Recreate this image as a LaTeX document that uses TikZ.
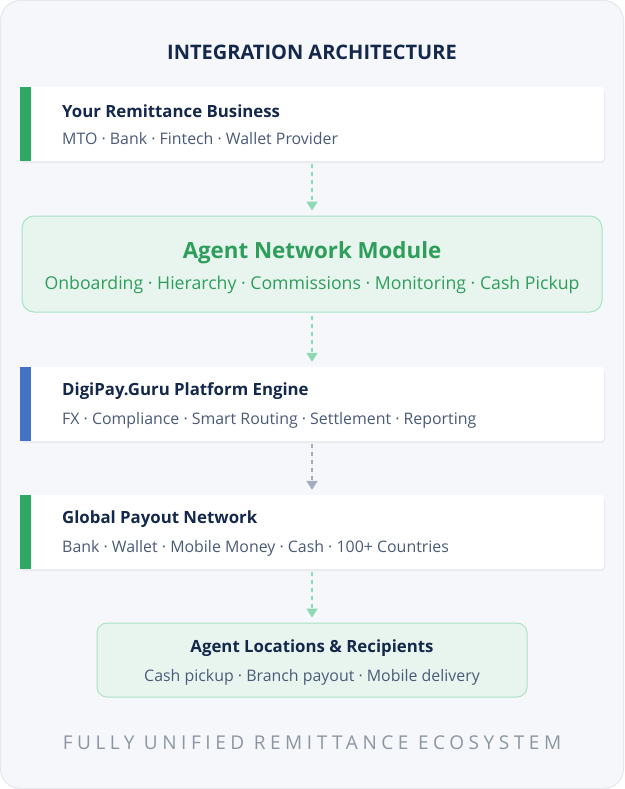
\documentclass[tikz,border=0pt]{standalone}
\usepackage{fontspec}
\setmainfont{Open Sans}
\usetikzlibrary{arrows.meta}
\definecolor{navy}{HTML}{14284B}
\definecolor{subtxt}{HTML}{4A5B78}
\definecolor{bgfill}{HTML}{F5F7FB}
\definecolor{bgline}{HTML}{E2E6ED}
\definecolor{bargreen}{HTML}{2EA862}
\definecolor{barblue}{HTML}{4472C4}
\definecolor{modfill}{HTML}{E8F5EF}
\definecolor{modline}{HTML}{A9E2C6}
\definecolor{modtxt}{HTML}{2E9E5B}
\definecolor{arrgreen}{HTML}{8FD8B4}
\definecolor{arrgray}{HTML}{A3ADBB}
\definecolor{foot}{HTML}{8C96A3}
\tikzset{
  card/.style={rectangle, rounded corners=3pt, fill=white, inner sep=0pt, minimum width=584pt, minimum height=74pt},
  modbox/.style={rectangle, rounded corners=12pt, fill=modfill, draw=modline, line width=1pt, inner sep=0pt},
  ctitle/.style={anchor=west, inner sep=0pt, text=navy, font=\fontsize{16.8}{20}\selectfont\bfseries},
  csub/.style={anchor=west, inner sep=0pt, text=subtxt, font=\fontsize{15.9}{18}\selectfont},
  flow/.style={line width=2pt, dash pattern=on 4pt off 4pt, shorten <=3pt, shorten >=5pt,
    -{Triangle[width=11pt,length=9pt]}},
  shadowbox/.style={fill=black, opacity=0.05, rounded corners=4pt}
}
\begin{document}
\begin{tikzpicture}[x=1pt,y=-1pt]
\useasboundingbox (0,0) rectangle (624,789);
\fill[white] (0,0) rectangle (624,789);
\draw[draw=bgline, fill=bgfill, line width=1pt, rounded corners=20pt] (0.5,0.5) rectangle (623.5,788.5);

\node[inner sep=0pt, text=navy, font=\fontsize{20}{23}\selectfont\bfseries] (title) at (312,52) {INTEGRATION ARCHITECTURE};

% card 1
\fill[shadowbox] (20,88) rectangle (605,163);
\node[card] (c1) at (312,124) {};
\fill[bargreen] (c1.north west) rectangle ([xshift=11pt]c1.south west);
\node[ctitle] (c1t) at (62,111) {Your Remittance Business};
\node[csub] (c1s) at (62,139) {MTO · Bank · Fintech · Wallet Provider};

% module
\node[modbox, minimum width=580pt, minimum height=96pt] (m) at (312,264) {};
\node[inner sep=0pt, text=modtxt, font=\fontsize{22.3}{26}\selectfont\bfseries] (mt) at (312,253) {Agent Network Module};
\node[inner sep=0pt, text=modtxt, font=\fontsize{17.7}{20}\selectfont] (ms) at (312,285) {Onboarding · Hierarchy · Commissions · Monitoring · Cash Pickup};

% card 3
\fill[shadowbox] (20,368) rectangle (605,443);
\node[card] (c3) at (312,404) {};
\fill[barblue] (c3.north west) rectangle ([xshift=11pt]c3.south west);
\node[ctitle] (c3t) at (62,391) {DigiPay.Guru Platform Engine};
\node[csub] (c3s) at (62,420) {FX · Compliance · Smart Routing · Settlement · Reporting};

% card 4
\fill[shadowbox] (20,496) rectangle (605,571);
\node[card] (c4) at (312,532) {};
\fill[bargreen] (c4.north west) rectangle ([xshift=11pt]c4.south west);
\node[ctitle] (c4t) at (62,519) {Global Payout Network};
\node[csub] (c4s) at (62,548) {Bank · Wallet · Mobile Money · Cash · 100+ Countries};

% recipients
\node[modbox, rounded corners=10pt, minimum width=430pt, minimum height=74pt] (r) at (312,660) {};
\node[inner sep=0pt, text=navy, font=\fontsize{16.8}{20}\selectfont\bfseries] (rt) at (312,648) {Agent Locations \& Recipients};
\node[inner sep=0pt, text=subtxt, font=\fontsize{15.9}{18}\selectfont] (rs) at (312,677) {Cash pickup · Branch payout · Mobile delivery};

% footer
\node[inner sep=0pt, text=foot, font=\fontsize{19}{22}\selectfont\addfontfeature{LetterSpace=24}] (foot) at (312,743) {FULLY UNIFIED REMITTANCE ECOSYSTEM};

% arrows
\draw[flow, draw=arrgreen, fill=arrgreen] (c1.south) -- (m.north);
\draw[flow, draw=arrgreen, fill=arrgreen] (m.south) -- (c3.north);
\draw[flow, draw=arrgray, fill=arrgray] (c3.south) -- (c4.north);
\draw[flow, draw=arrgreen, fill=arrgreen] (c4.south) -- (r.north);
\end{tikzpicture}
\end{document}
